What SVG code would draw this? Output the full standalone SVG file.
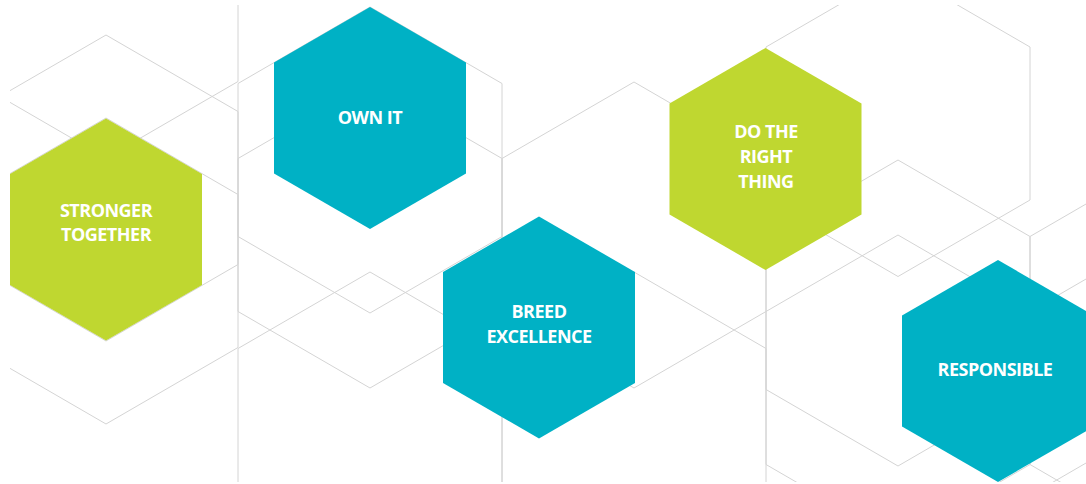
<svg xmlns="http://www.w3.org/2000/svg" xmlns:xlink="http://www.w3.org/1999/xlink" width="1086" height="484" viewBox="0 0 1086 484">
  <style>
    .bg { fill: none; stroke: #d4d4d4; stroke-width: 1; }
    .teal { fill: #00b1c5; }
    .green { fill: #bfd730; }
    .lbl { font-family: "Open Sans", "Liberation Sans", sans-serif; font-weight: 700; font-size: 18px; letter-spacing: -0.5px; fill: #ffffff; text-anchor: middle; }
  </style>
  <defs>
    <polygon id="outline" points="0,-153 132,-76.5 132,76.5 0,153 -132,76.5 -132,-76.5"/>
    <polygon id="hex" points="0,-111 96,-55.5 96,55.5 0,111 -96,55.5 -96,-55.5"/>
    <clipPath id="clip">
      <rect x="10" y="5" width="1076" height="477"/>
    </clipPath>
  </defs>
  <rect width="1086" height="484" fill="#ffffff"/>
  <g id="connectors" class="bg" clip-path="url(#clip)">
    <use xlink:href="#outline" x="106" y="5"/>
    <use xlink:href="#outline" x="106" y="188"/>
    <use xlink:href="#outline" x="106" y="271"/>
    <use xlink:href="#outline" x="370" y="160"/>
    <use xlink:href="#outline" x="370" y="235"/>
    <use xlink:href="#outline" x="370" y="425"/>
    <use xlink:href="#outline" x="634" y="235"/>
    <use xlink:href="#outline" x="634" y="425"/>
    <use xlink:href="#outline" x="898" y="123.5"/>
    <use xlink:href="#outline" x="898" y="313"/>
    <use xlink:href="#outline" x="898" y="388"/>
    <use xlink:href="#outline" x="1162" y="313"/>
    <use xlink:href="#outline" x="1162" y="388"/>
    <use xlink:href="#outline" x="1162" y="572"/>
  </g>
  <g id="stronger-together">
    <use xlink:href="#hex" class="green" x="106" y="229.5"/>
    <text class="lbl" x="106" y="217">STRONGER</text>
    <text class="lbl" x="106" y="240.5">TOGETHER</text>
  </g>
  <g id="own-it">
    <use xlink:href="#hex" class="teal" x="370" y="118"/>
    <text class="lbl" x="370" y="124">OWN IT</text>
  </g>
  <g id="breed-excellence">
    <use xlink:href="#hex" class="teal" x="539" y="327.5"/>
    <text class="lbl" x="539" y="318">BREED</text>
    <text class="lbl" x="539" y="342.5">EXCELLENCE</text>
  </g>
  <g id="do-the-right-thing">
    <use xlink:href="#hex" class="green" x="765.5" y="159"/>
    <text class="lbl" x="766" y="138">DO THE</text>
    <text class="lbl" x="766" y="163">RIGHT</text>
    <text class="lbl" x="766" y="188">THING</text>
  </g>
  <g id="responsible">
    <use xlink:href="#hex" class="teal" x="998" y="371"/>
    <text class="lbl" x="995" y="375.5">RESPONSIBLE</text>
  </g>
</svg>
